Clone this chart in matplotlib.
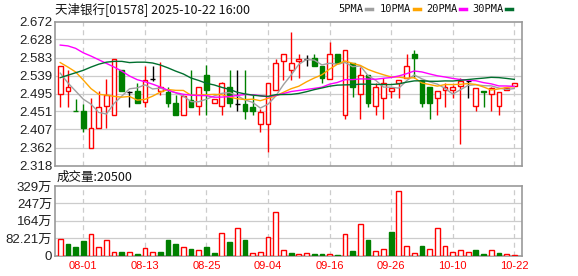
import numpy as np
import pandas as pd
import matplotlib
matplotlib.use("Agg")
import matplotlib.pyplot as plt
from matplotlib.lines import Line2D

# ---------------- data ----------------
title = "天津银行[01578] 2025-10-22 16:00"
vol_title = "成交量:20500"

opens = [2.493, 2.502, 2.452, 2.452, 2.361, 2.411, 2.464, 2.442, 2.552, 2.499,
         2.501, 2.473, 2.530, 2.501, 2.499, 2.472, 2.442, 2.480, 2.464, 2.540,
         2.472, 2.464, 2.511, 2.470, 2.470, 2.462, 2.421, 2.421, 2.503, 2.574,
         2.554, 2.574, 2.580, 2.582, 2.562, 2.531, 2.591, 2.442, 2.570, 2.493,
         2.540, 2.464, 2.483, 2.501, 2.521, 2.532, 2.591, 2.529, 2.511, 2.483,
         2.503, 2.503, 2.513, 2.526, 2.464, 2.500, 2.493, 2.464, 2.503, 2.513]
highs = [2.562, 2.552, 2.481, 2.470, 2.483, 2.501, 2.530, 2.581, 2.552, 2.501,
         2.520, 2.562, 2.562, 2.573, 2.511, 2.491, 2.491, 2.552, 2.510, 2.565,
         2.482, 2.524, 2.552, 2.552, 2.552, 2.491, 2.458, 2.520, 2.581, 2.591,
         2.645, 2.591, 2.590, 2.591, 2.562, 2.622, 2.591, 2.602, 2.570, 2.561,
         2.540, 2.520, 2.532, 2.509, 2.529, 2.591, 2.602, 2.529, 2.511, 2.501,
         2.520, 2.517, 2.532, 2.526, 2.509, 2.500, 2.511, 2.499, 2.509, 2.520]
lows = [2.462, 2.462, 2.451, 2.401, 2.361, 2.409, 2.411, 2.442, 2.501, 2.462,
        2.472, 2.462, 2.526, 2.491, 2.462, 2.442, 2.442, 2.462, 2.442, 2.442,
        2.472, 2.442, 2.462, 2.452, 2.432, 2.442, 2.401, 2.350, 2.503, 2.528,
        2.528, 2.532, 2.563, 2.562, 2.520, 2.531, 2.569, 2.432, 2.487, 2.432,
        2.462, 2.442, 2.432, 2.483, 2.483, 2.532, 2.532, 2.462, 2.432, 2.442,
        2.462, 2.483, 2.372, 2.483, 2.452, 2.462, 2.452, 2.442, 2.503, 2.513]
closes = [2.562, 2.511, 2.451, 2.411, 2.409, 2.461, 2.491, 2.581, 2.501, 2.499,
          2.472, 2.529, 2.530, 2.511, 2.472, 2.442, 2.488, 2.462, 2.510, 2.503,
          2.482, 2.520, 2.472, 2.470, 2.452, 2.452, 2.450, 2.520, 2.570, 2.591,
          2.571, 2.581, 2.580, 2.563, 2.532, 2.591, 2.569, 2.602, 2.511, 2.540,
          2.472, 2.511, 2.520, 2.509, 2.529, 2.562, 2.583, 2.472, 2.472, 2.501,
          2.511, 2.511, 2.526, 2.526, 2.509, 2.499, 2.509, 2.499, 2.509, 2.520]
volumes = [79.6, 52.4, 38.1, 66.8, 103.3, 41.3, 73.1, 17.5, 14.3, 17.5,
           6.4, 36.5, 17.5, 14.3, 71.5, 52.4, 41.3, 28.6, 27.0, 41.3,
           9.5, 108.0, 62.0, 132.0, 71.5, 9.5, 17.5, 89.0, 203.5, 27.0,
           9.5, 8.0, 9.5, 4.8, 4.8, 4.8, 1.0, 100.0, 19.0, 148.0,
           71.5, 22.3, 31.8, 109.7, 305.0, 46.0, 9.5, 43.0, 31.8, 132.0,
           46.0, 14.3, 27.0, 14.3, 23.8, 4.8, 27.0, 9.5, 4.8, 2.05]
vol_up = [1, 0, 0, 0, 1, 1, 1, 1, 0, 1,
          0, 1, 1, 0, 0, 0, 1, 0, 1, 0,
          0, 1, 0, 1, 0, 1, 1, 1, 1, 1,
          0, 1, 1, 0, 0, 1, 0, 1, 0, 1,
          0, 1, 1, 0, 1, 1, 1, 0, 1, 1,
          1, 1, 1, 1, 0, 0, 1, 0, 1, 1]

# moving-average values before enough candles are visible
ma5_head = [2.545, 2.521, 2.501, 2.481]
ma10_head = [2.571, 2.560, 2.548, 2.528, 2.507, 2.493, 2.491, 2.488, 2.486]
ma20_head = [2.614, 2.612, 2.606, 2.595, 2.587, 2.578, 2.569, 2.560, 2.550, 2.538,
             2.529, 2.524, 2.518, 2.511, 2.503, 2.497, 2.493, 2.491, 2.490]
ma30_head = [2.534, 2.540, 2.546, 2.552, 2.560, 2.567, 2.572, 2.574, 2.574, 2.571,
             2.572, 2.572, 2.570, 2.565, 2.558, 2.550, 2.543, 2.533, 2.527, 2.520,
             2.516, 2.510, 2.505, 2.498, 2.494, 2.491, 2.489, 2.488, 2.492]

date_idx = [3, 11, 19, 27, 35, 43, 51, 59]
date_labels = ["08-01", "08-13", "08-25", "09-04", "09-16", "09-26", "10-10", "10-22"]

price_ticks = [2.318, 2.362, 2.407, 2.451, 2.495, 2.539, 2.583, 2.628, 2.672]
vol_ticks = [0, 82.21, 164.42, 246.63, 328.84]
vol_tick_labels = ["0", "82.21万", "164万", "247万", "329万"]

ma_names = ["5PMA", "10PMA", "20PMA", "30PMA"]
ma_windows = [5, 10, 20, 30]
ma_colors = ["#a0a0a0", "#ffa500", "#ff00ff", "#006f2e"]

# ---------------- figure ----------------
W, H = 578, 276
fig = plt.figure(figsize=(W / 100, H / 100), dpi=100)
fig.patch.set_facecolor("white")

def fx(px):
    return px / W

def fy(py):
    return 1 - py / H

L, R = 55, 522
ax = fig.add_axes([fx(L), fy(165.5), fx(R - L), fy(21.5) - fy(165.5)])
axv = fig.add_axes([fx(L), fy(255.5), fx(R - L), fy(186) - fy(255.5)])

n = len(closes)
x = np.arange(n)
o = np.array(opens); h = np.array(highs); l = np.array(lows); c = np.array(closes)

RED = "#ff0000"
GREEN = "#008000"
GRID = "#cccccc"
SPINE = "#999999"

for a in (ax, axv):
    a.set_xlim(-0.68, 60.0)
    for s in a.spines.values():
        s.set_color(SPINE)
        s.set_linewidth(1.2)
    a.tick_params(axis="both", length=0, pad=2)
    for d in date_idx:
        a.axvline(d, color=GRID, lw=0.9, ls=(0, (4, 3)), zorder=0)

# price grid
ax.set_ylim(price_ticks[0], price_ticks[-1])
ax.set_yticks(price_ticks)
ax.set_yticklabels([f"{t:.3f}" for t in price_ticks],
                   fontfamily="Liberation Sans", fontsize=9.5, color="#222222")
for t in price_ticks[1:-1]:
    ax.axhline(t, color=GRID, lw=0.9, zorder=0)
ax.set_xticks([])

# candles
bw = 0.62
for i in range(n):
    if c[i] > o[i]:
        col, face = RED, "white"
    elif c[i] < o[i]:
        col, face = GREEN, GREEN
    else:
        col, face = "black", "black"
    ax.vlines(x[i], l[i], h[i], color=col, lw=1.0, zorder=2)
    if c[i] == o[i]:
        ax.hlines(c[i], x[i] - bw / 2, x[i] + bw / 2, color=col, lw=1.0, zorder=3)
    else:
        lo_b = min(o[i], c[i]); hi_b = max(o[i], c[i])
        ax.bar(x[i], hi_b - lo_b, bottom=lo_b, width=bw, facecolor=face,
               edgecolor=col, linewidth=1.0, zorder=3)

# moving averages
cs = pd.Series(closes)
heads = [ma5_head, ma10_head, ma20_head, ma30_head]
for win, head, colr in zip(ma_windows, heads, ma_colors):
    ma = cs.rolling(win).mean().to_numpy()
    ma[:len(head)] = head
    ax.plot(x, ma, color=colr, lw=1.0, zorder=4)

# volume
axv.set_ylim(0, vol_ticks[-1])
axv.set_yticks(vol_ticks)
axv.set_yticklabels(vol_tick_labels, fontfamily=["Liberation Sans", "Noto Sans CJK SC"],
                    fontsize=9.5, color="#222222")
for t in vol_ticks[1:-1]:
    axv.axhline(t, color=GRID, lw=0.9, zorder=0)
vols = np.array(volumes)
for i in range(n):
    if vol_up[i]:
        axv.bar(x[i], vols[i], width=bw, facecolor="white", edgecolor=RED, lw=1.0, zorder=3)
    else:
        axv.bar(x[i], vols[i], width=bw, facecolor=GREEN, edgecolor=GREEN, lw=1.0, zorder=3)
axv.set_xticks(date_idx)
axv.set_xticklabels(date_labels, fontfamily="Liberation Sans", fontsize=8, color=RED)
axv.tick_params(axis="x", pad=4)

# texts
fig.text(fx(55), fy(9), title, fontfamily=["Noto Sans CJK SC", "DejaVu Sans"],
         fontsize=9, va="center", ha="left", color="#111111")
fig.text(fx(57), fy(177), vol_title, fontfamily=["Noto Sans CJK SC", "DejaVu Sans"],
         fontsize=9, va="center", ha="left", color="#111111")

# legend
leg_x = [338, 380, 426, 472]
for name, colr, lx in zip(ma_names, ma_colors, leg_x):
    t = fig.text(fx(lx), fy(9), name, fontfamily="DejaVu Sans Mono", fontsize=7.5,
                 va="center", ha="left", color="#111111")
    fig.canvas.draw()
    bb = t.get_window_extent()
    x0 = bb.x1 + 3
    fig.add_artist(Line2D([x0 / W, (x0 + 6) / W], [fy(9), fy(9)], color=colr, lw=2.5,
                          transform=fig.transFigure))

fig.savefig("out.png", dpi=100, facecolor="white")
